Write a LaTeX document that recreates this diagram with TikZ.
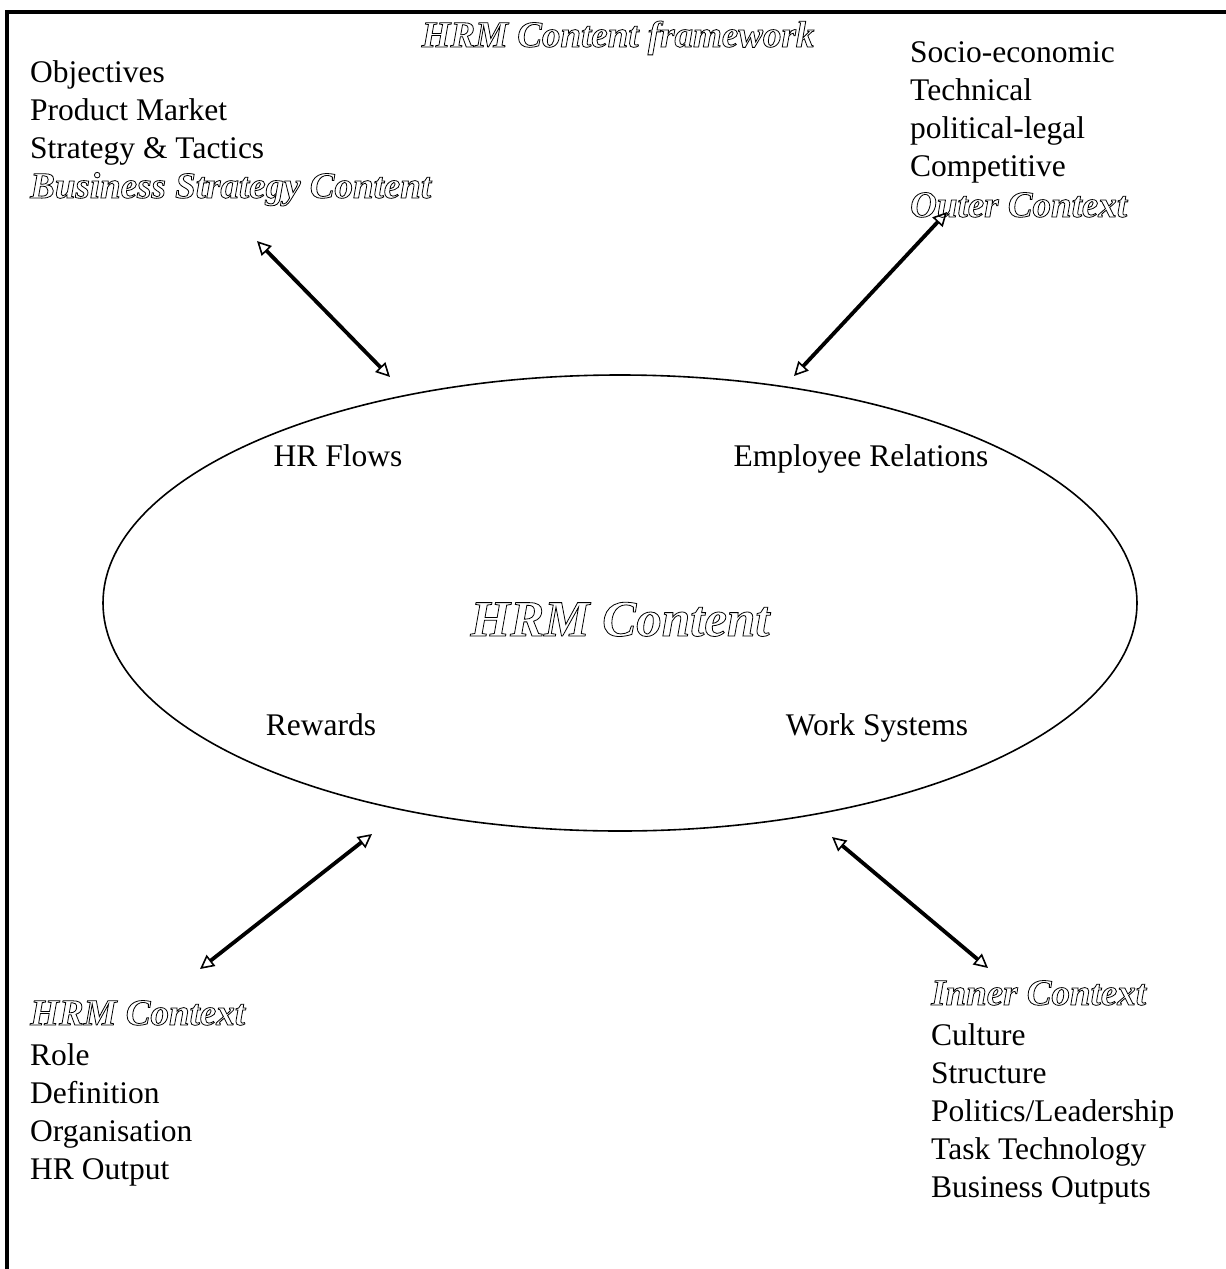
\documentclass[tikz,border=0pt]{standalone}
\usepackage{fontspec}
\setmainfont{Liberation Serif}
\usetikzlibrary{arrows.meta}
% hollow (outlined) lettering via PDF text render mode 1
\newcommand\hollow[1]{\special{pdf:literal direct 1 Tr 0.8 w}#1\special{pdf:literal direct 0 Tr}}
\tikzset{
  body/.style={anchor=base west, align=left, inner sep=0pt,
    font=\fontsize{31.5}{38}\selectfont},
  label/.style={anchor=base, inner sep=0pt,
    font=\fontsize{31.5}{38}\selectfont},
  heading/.style={anchor=base west, inner sep=0pt,
    font=\fontsize{37}{42}\selectfont\bfseries\itshape},
  dblarrow/.style={line width=3.8pt,
    {Triangle[open,length=14pt,width=14pt,line width=1.6pt]}-{Triangle[open,length=14pt,width=14pt,line width=1.6pt]}},
}
\begin{document}
\begin{tikzpicture}[x=1pt,y=-1pt]
\useasboundingbox (0,0) rectangle (1226,1269);
% frame (top and left edges)
\draw[line width=4pt] (7,1269) -- (7,12) -- (1226,12);

\node[heading, anchor=base] (title) at (618,47) {\hollow{HRM Content framework}};

% business strategy content
\node[body] (obj) at (30,82) {Objectives};
\node[body] (pm) at (30,120) {Product Market};
\node[body] (st) at (30,158) {Strategy \& Tactics};
\node[heading] (bsc) at (30,198) {\hollow{Business Strategy Content}};

% outer context
\node[body] (se) at (910,62) {Socio-economic};
\node[body] (tech) at (910,100) {Technical};
\node[body] (pl) at (910,138) {political-legal};
\node[body] (comp) at (910,176) {Competitive};
\node[heading] (oc) at (910,217) {\hollow{Outer Context}};

% HRM content
\draw[line width=1.6pt] (620,603) ellipse [x radius=517, y radius=228];
\node[anchor=base, inner sep=0pt] (hrm) at (620,636)
  {\fontsize{51}{56}\selectfont\bfseries\itshape\hollow{HRM Content}};
\node[label] (flows) at (338,466) {HR Flows};
\node[label] (er) at (861,466) {Employee Relations};
\node[label] (rew) at (321,735) {Rewards};
\node[label] (ws) at (877,735) {Work Systems};

% HRM context
\node[heading] (hc) at (30,1025) {\hollow{HRM Context}};
\node[body] (role) at (30,1065) {Role};
\node[body] (def) at (30,1103) {Definition};
\node[body] (org) at (30,1141) {Organisation};
\node[body] (hro) at (30,1179) {HR Output};

% inner context
\node[heading] (ic) at (931,1005) {\hollow{Inner Context}};
\node[body] (cul) at (931,1045) {Culture};
\node[body] (str) at (931,1083) {Structure};
\node[body] (pol) at (931,1121) {Politics/Leadership};
\node[body] (tt) at (931,1159) {Task Technology};
\node[body] (bo) at (931,1197) {Business Outputs};

% arrow end points
\coordinate (tlA) at (257,241);
\coordinate (tlB) at (390,377);
\coordinate (trA) at (947,212);
\coordinate (trB) at (794,376);
\coordinate (blA) at (372,834);
\coordinate (blB) at (200,969);
\coordinate (brA) at (832,837);
\coordinate (brB) at (988,968);

\draw[dblarrow] (tlA) -- (tlB);
\draw[dblarrow] (trA) -- (trB);
\draw[dblarrow] (blA) -- (blB);
\draw[dblarrow] (brA) -- (brB);
\end{tikzpicture}
\end{document}
